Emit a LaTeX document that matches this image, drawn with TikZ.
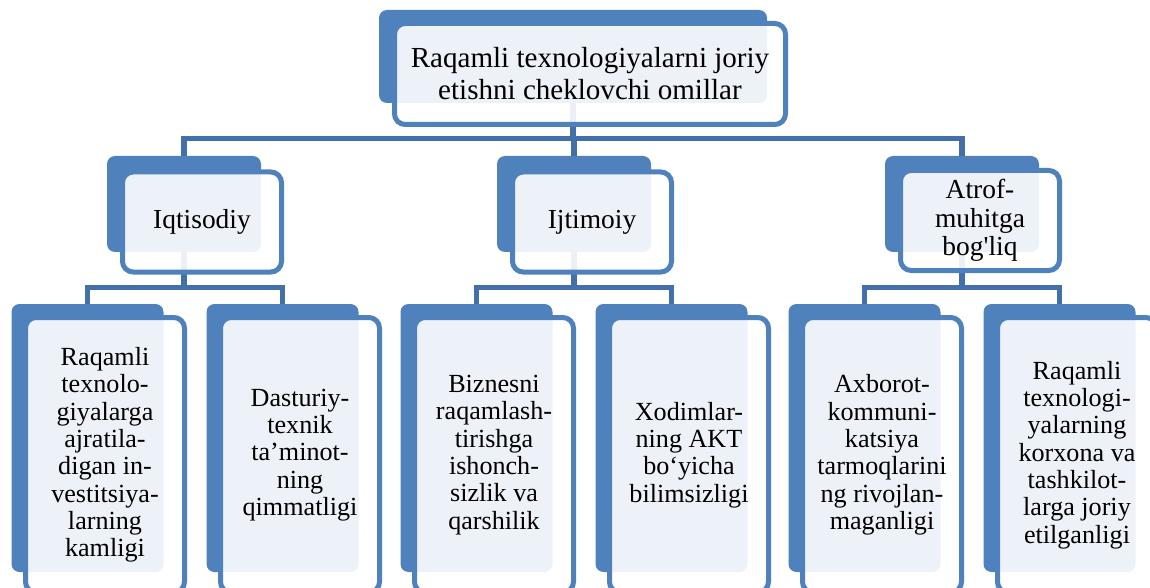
\documentclass[tikz,border=0pt]{standalone}
\usepackage{fontspec}
\setmainfont{Liberation Serif}[Ligatures=TeXOff]
\definecolor{accent}{HTML}{4F81BD}
\definecolor{conncol}{HTML}{4370AA}
\tikzset{
  backbox/.style={rectangle, rounded corners=6pt, fill=accent, inner sep=0pt},
  backtop/.style={backbox, minimum width=291pt, minimum height=69.75pt},
  backmid/.style={backbox, minimum width=115.5pt, minimum height=72pt},
  backlow/.style={backbox, minimum width=114pt, minimum height=201pt},
  frontbox/.style={rectangle, rounded corners=8pt, draw=accent, line width=3.75pt,
    fill=white, fill opacity=0.9, text opacity=1, inner sep=0pt, align=center},
  fronttop/.style={frontbox, minimum width=293.25pt, minimum height=75.75pt,
    font=\fontsize{21.8}{24}\selectfont},
  frontmid/.style={frontbox, minimum width=119.25pt, minimum height=75pt,
    font=\fontsize{20.6}{21.4}\selectfont},
  frontlow/.style={frontbox, minimum width=119.25pt, minimum height=206.25pt,
    font=\fontsize{19.6}{20.5}\selectfont},
  conn/.style={draw=conncol, line width=4.1pt},
}
\begin{document}
\begin{tikzpicture}[x=0.75pt, y=-0.75pt]
\path[use as bounding box, clip] (0,0) rectangle (1150,588);
% back boxes
\node[backtop] (Tb) at (573,56.5) {};
\node[backmid] (Ab) at (184,204) {};
\node[backmid] (Bb) at (574,204) {};
\node[backmid] (Cb) at (962,204) {};
\node[backlow] (A1b) at (87.5,438) {};
\node[backlow] (A2b) at (282.5,438) {};
\node[backlow] (B1b) at (476.5,438) {};
\node[backlow] (B2b) at (671.5,438) {};
\node[backlow] (C1b) at (864.5,438) {};
\node[backlow] (C2b) at (1059.5,438) {};
% connectors
\draw[conn] (Tb.south) -- ++(0,35) -| (Ab.north);
\draw[conn] (Tb.south) -- ++(0,35) -| (Bb.north);
\draw[conn] (Tb.south) -- ++(0,35) -| (Cb.north);
\draw[conn] (Ab.south) -- ++(0,35) -| (A1b.north);
\draw[conn] (Ab.south) -- ++(0,35) -| (A2b.north);
\draw[conn] (Bb.south) -- ++(0,35) -| (B1b.north);
\draw[conn] (Bb.south) -- ++(0,35) -| (B2b.north);
\draw[conn] (Cb.south) -- ++(0,35) -| (C1b.north);
\draw[conn] (Cb.south) -- ++(0,35) -| (C2b.north);
% front boxes
\node[fronttop] (T) at (590,74) {Raqamli texnologiyalarni joriy\\etishni cheklovchi omillar};
\node[frontmid] (A) at (202,222) {Iqtisodiy};
\node[frontmid] (B) at (592,222) {Ijtimoiy};
\node[frontmid] (C) at (980,220.5) {Atrof-\\muhitga\\bog'liq};
\node[frontlow] (A1) at (105,455) {Raqamli\\texnolo-\\giyalarga\\ajratila-\\digan in-\\vestitsiya-\\larning\\kamligi};
\node[frontlow] (A2) at (300,455) {Dasturiy-\\texnik\\ta’minot-\\ning\\qimmatligi};
\node[frontlow] (B1) at (494,455) {Biznesni\\raqamlash-\\tirishga\\ishonch-\\sizlik va\\qarshilik};
\node[frontlow] (B2) at (689,455) {Xodimlar-\\ning AKT\\bo‘yicha\\bilimsizligi};
\node[frontlow] (C1) at (882,455) {Axborot-\\kommuni-\\katsiya\\tarmoqlarini\\ng rivojlan-\\maganligi};
\node[frontlow] (C2) at (1077,455) {Raqamli\\texnologi-\\yalarning\\korxona va\\tashkilot-\\larga joriy\\etilganligi};
\end{tikzpicture}
\end{document}
